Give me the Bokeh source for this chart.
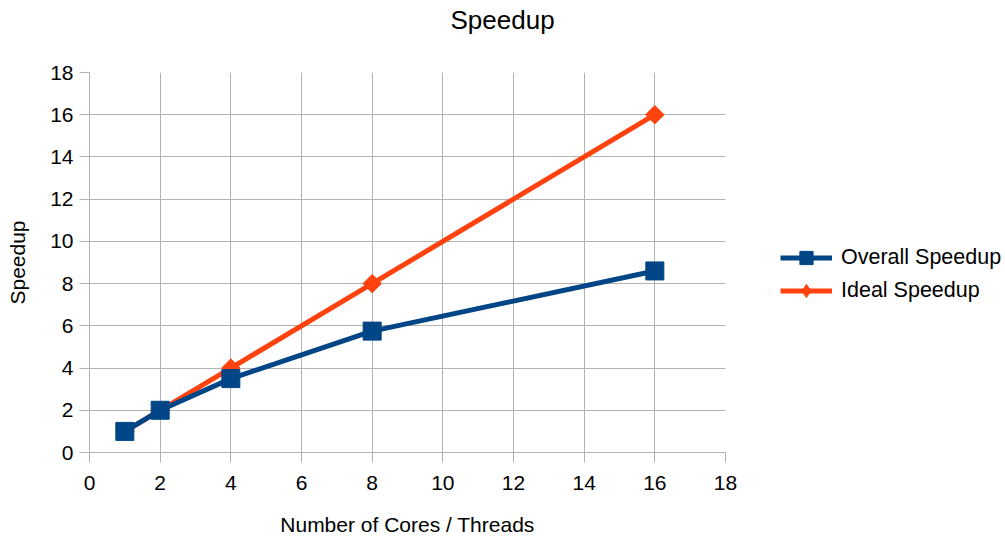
import math
from bokeh.plotting import figure
from bokeh.models import Legend, LegendItem, FixedTicker, Title
from bokeh.embed import file_html
from bokeh.resources import INLINE

cores = [1, 2, 4, 8, 16]
overall_speedup = [1.0, 2.0, 3.5, 5.75, 8.6]
ideal_speedup = [1, 2, 4, 8, 16]
x_ticks = [0, 2, 4, 6, 8, 10, 12, 14, 16, 18]
y_ticks = [0, 2, 4, 6, 8, 10, 12, 14, 16, 18]

BLUE = "#004586"
ORANGE = "#ff420e"
GRID = "#b3b3b3"
FONT = "Liberation Sans"

p = figure(title=None, frame_width=636, frame_height=380, min_border_left=89, min_border_right=10,
           min_border_top=72, min_border_bottom=72,
           x_range=(0, 18), y_range=(0, 18), output_backend="svg", toolbar_location=None)
p.outline_line_color = None
p.background_fill_color = "white"

# spacer (closest to the frame), then the real title above it
p.add_layout(Title(text=" ", text_font_size="10px", standoff=25), "above")
p.add_layout(Title(text="Speedup", align="left", offset=361, standoff=0, vertical_align="bottom",
                   text_font=FONT, text_font_size="26px", text_font_style="normal",
                   text_color="#000000"), "above")

for ax, ticks in ((p.xaxis[0], x_ticks), (p.yaxis[0], y_ticks)):
    ax.ticker = FixedTicker(ticks=ticks)
    ax.axis_line_color = GRID
    ax.major_tick_line_color = GRID
    ax.major_tick_out = 10
    ax.major_tick_in = 0
    ax.minor_tick_line_color = None
    ax.major_label_text_font = FONT
    ax.major_label_text_font_size = "21px"
    ax.major_label_text_color = "#000000"
    ax.axis_label_text_font = FONT
    ax.axis_label_text_font_size = "21px"
    ax.axis_label_text_font_style = "normal"
    ax.axis_label_text_color = "#000000"

p.xaxis.axis_label = "Number of Cores / Threads"
p.yaxis.axis_label = "Speedup"
p.xaxis.major_label_standoff = 13
p.xaxis.axis_label_standoff = 20
p.yaxis.major_label_standoff = 6
p.yaxis.axis_label_standoff = 18

p.xgrid.grid_line_color = GRID
p.ygrid.grid_line_color = GRID
p.xgrid.ticker = FixedTicker(ticks=x_ticks)
p.ygrid.ticker = FixedTicker(ticks=y_ticks)

l2 = p.line(cores, ideal_speedup, line_color=ORANGE, line_width=5)
m2 = p.scatter(cores, ideal_speedup, marker="square", angle=math.pi / 4, size=13,
               fill_color=ORANGE, line_color=ORANGE)
l1 = p.line(cores, overall_speedup, line_color=BLUE, line_width=5)
m1 = p.scatter(cores, overall_speedup, marker="square", size=18, fill_color=BLUE, line_color=BLUE)
# legend-only diamond symbol for the ideal series (NaN position: not drawn in the plot)
m2_key = p.scatter(x=[float("nan")], y=[float("nan")], marker="diamond", size=22,
                   fill_color=ORANGE, line_color=ORANGE)

legend = Legend(items=[LegendItem(label="Overall Speedup", renderers=[l1, m1]),
                       LegendItem(label="Ideal Speedup", renderers=[l2, m2_key])],
                location=(55, 145), padding=0, margin=0, spacing=0,
                glyph_width=52, glyph_height=33, label_height=33, label_standoff=9,
                border_line_color=None, background_fill_alpha=0,
                label_text_font=FONT, label_text_font_size="21.5px", label_text_color="#000000")
p.add_layout(legend, "right")

open("out.html", "w").write(file_html(p, INLINE))
